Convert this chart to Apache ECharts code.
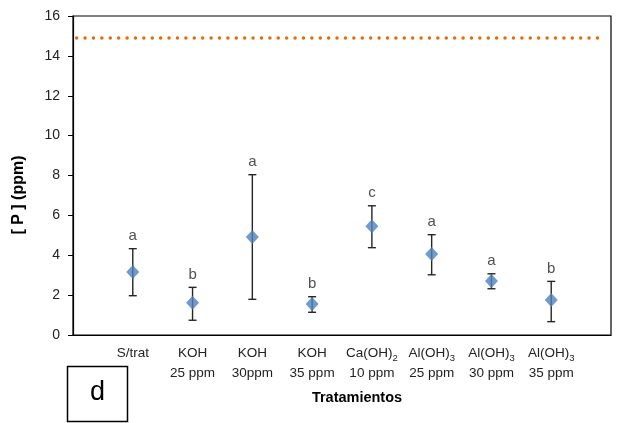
<!DOCTYPE html>
<html>
<head>
<meta charset="utf-8">
<script src="https://cdn.jsdelivr.net/npm/echarts@6/dist/echarts.min.js"></script>
<style>
  html, body { margin: 0; padding: 0; background: #fff; }
  #chart { width: 621px; height: 423px; }
</style>
</head>
<body>
<div id="chart"></div>
<script>
// Treatment names (two lines; {s|..} marks a subscript)
var treatments = [
  'S/trat',
  'KOH\n25 ppm',
  'KOH\n30ppm',
  'KOH\n35 ppm',
  'Ca(OH){s|2}\n10 ppm',
  'Al(OH){s|3}\n25 ppm',
  'Al(OH){s|3}\n30 ppm',
  'Al(OH){s|3}\n35 ppm'
];
// Mean phosphorus concentration, ppm
var meanP = [3.16, 1.62, 4.91, 1.55, 5.45, 4.06, 2.71, 1.76];
// Error bar limits, ppm
var upperP = [4.33, 2.39, 8.04, 1.92, 6.48, 5.03, 3.07, 2.69];
var lowerP = [1.97, 0.74, 1.79, 1.14, 4.38, 3.02, 2.32, 0.67];
// Significance groups
var groups = ['a', 'b', 'a', 'b', 'c', 'a', 'a', 'b'];
// Reference level (dotted line), ppm, and its horizontal extent on the x scale
var refLevel = 14.9;
var refExtent = [-0.08, 8.8];
// Y axis ticks
var yTicks = [0, 2, 4, 6, 8, 10, 12, 14, 16];

var FONT = '"Liberation Sans", Arial, sans-serif';
var pos = treatments.map(function (_, i) { return i + 1; });

var chart = echarts.init(document.getElementById('chart'), null, { renderer: 'canvas' });

chart.setOption({
  animation: false,
  backgroundColor: '#ffffff',
  grid: {
    left: 73, right: 10, top: 16, bottom: 88,
    show: true, borderColor: '#000', borderWidth: 1.2
  },
  xAxis: {
    type: 'value', min: 0, max: 9, interval: 1,
    splitLine: { show: false },
    axisTick: { show: false },
    axisLine: { lineStyle: { color: '#000', width: 1.2 } },
    axisLabel: {
      margin: 8,
      fontFamily: FONT, fontSize: 13.5, color: '#222', lineHeight: 20,
      formatter: function (v) {
        var i = Math.round(v) - 1;
        return (i >= 0 && i < treatments.length) ? treatments[i] : '';
      },
      rich: {
        s: { fontFamily: FONT, fontSize: 9.5, color: '#222', verticalAlign: 'bottom', lineHeight: 14 }
      }
    }
  },
  yAxis: {
    type: 'value', min: yTicks[0], max: yTicks[yTicks.length - 1], interval: yTicks[1] - yTicks[0],
    splitLine: { show: false },
    axisLine: { show: true, lineStyle: { color: '#000', width: 1.2 } },
    axisTick: { show: true, inside: false, length: 5, lineStyle: { color: '#000' } },
    axisLabel: { margin: 13, fontFamily: FONT, fontSize: 14, color: '#222' }
  },
  series: [
    {
      // dotted reference level
      type: 'line',
      data: refExtent.map(function (x) { return [x, refLevel]; }),
      showSymbol: false, symbol: 'none', clip: false,
      lineStyle: { color: '#E46C0A', width: 3.4, type: [0.1, 8.3], cap: 'round' },
      z: 2
    },
    {
      // error bars
      type: 'custom',
      data: pos.map(function (x, i) { return [x, lowerP[i], upperP[i]]; }),
      renderItem: function (params, api) {
        var x = api.value(0);
        var lo = api.coord([x, api.value(1)]);
        var hi = api.coord([x, api.value(2)]);
        var half = 4;
        var style = { stroke: '#262626', lineWidth: 1.4 };
        return {
          type: 'group',
          children: [
            { type: 'line', shape: { x1: lo[0], y1: lo[1], x2: hi[0], y2: hi[1] }, style: style },
            { type: 'line', shape: { x1: hi[0] - half, y1: hi[1], x2: hi[0] + half, y2: hi[1] }, style: style },
            { type: 'line', shape: { x1: lo[0] - half, y1: lo[1], x2: lo[0] + half, y2: lo[1] }, style: style }
          ]
        };
      },
      z: 3
    },
    {
      // mean values
      type: 'scatter',
      symbol: 'diamond',
      symbolSize: [13, 14],
      itemStyle: { color: '#4F81BD' },
      data: pos.map(function (x, i) { return [x, meanP[i]]; }),
      z: 5
    },
    {
      // group letters above the error bars
      type: 'scatter',
      symbolSize: 0,
      data: pos.map(function (x, i) { return [x, upperP[i]]; }),
      label: {
        show: true, position: 'top', distance: 5,
        fontFamily: FONT, fontSize: 15, color: '#222',
        formatter: function (p) { return groups[p.dataIndex]; }
      },
      z: 6
    }
  ],
  graphic: [
    {
      type: 'text', x: 19, y: 195, rotation: Math.PI / 2,
      style: {
        text: '[ P ] (ppm)', fontFamily: FONT, fontSize: 16, fontWeight: 'bold',
        fill: '#000', textAlign: 'center', textVerticalAlign: 'middle'
      }
    },
    {
      type: 'text', x: 357, y: 398,
      style: {
        text: 'Tratamientos', fontFamily: FONT, fontSize: 14.5, fontWeight: 'bold',
        fill: '#000', textAlign: 'center', textVerticalAlign: 'middle'
      }
    },
    {
      type: 'rect', shape: { x: 67.5, y: 366.5, width: 60, height: 55 },
      style: { fill: '#fff', stroke: '#000', lineWidth: 1.5 }
    },
    {
      type: 'text', x: 97.5, y: 393,
      style: {
        text: 'd', fontFamily: FONT, fontSize: 27, fill: '#000',
        textAlign: 'center', textVerticalAlign: 'middle'
      }
    }
  ]
});
</script>
</body>
</html>
